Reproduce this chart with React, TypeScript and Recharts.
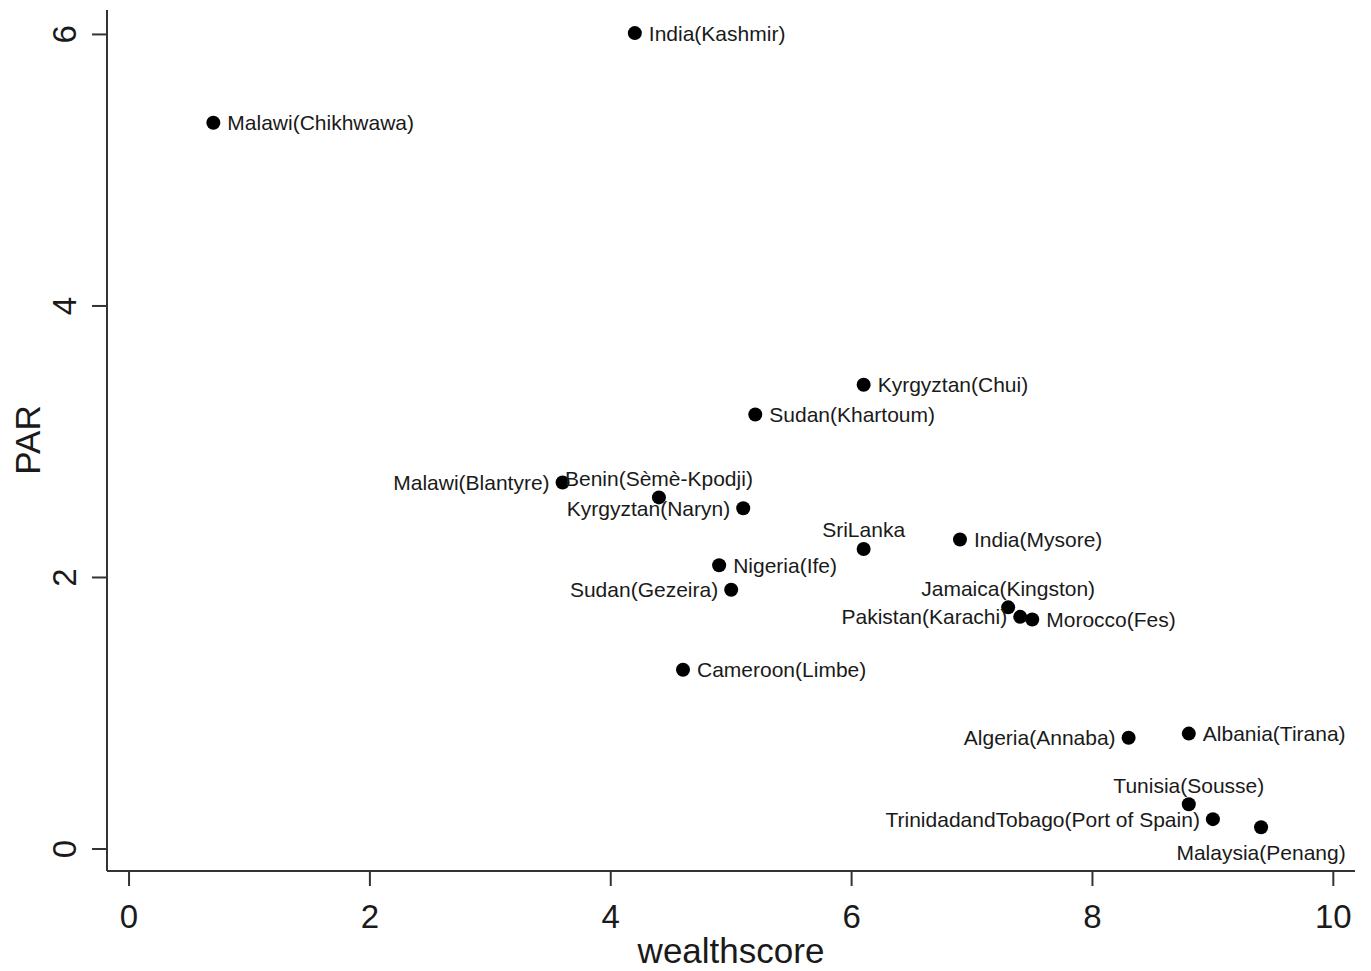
import { ScatterChart, Scatter, XAxis, YAxis, Label } from "recharts";

// study sites
const sites = [
  "India(Kashmir)",
  "Malawi(Chikhwawa)",
  "Kyrgyztan(Chui)",
  "Sudan(Khartoum)",
  "Malawi(Blantyre)",
  "Benin(Sèmè-Kpodji)",
  "Kyrgyztan(Naryn)",
  "SriLanka",
  "India(Mysore)",
  "Nigeria(Ife)",
  "Sudan(Gezeira)",
  "Jamaica(Kingston)",
  "Pakistan(Karachi)",
  "Morocco(Fes)",
  "Cameroon(Limbe)",
  "Algeria(Annaba)",
  "Albania(Tirana)",
  "Tunisia(Sousse)",
  "TrinidadandTobago(Port of Spain)",
  "Malaysia(Penang)",
];

const wealthscore = [4.2, 0.7, 6.1, 5.2, 3.6, 4.4, 5.1, 6.1, 6.9, 4.9, 5.0, 7.3, 7.4, 7.5, 4.6, 8.3, 8.8, 8.8, 9.0, 9.4];
const par = [6.01, 5.35, 3.42, 3.2, 2.7, 2.59, 2.51, 2.21, 2.28, 2.09, 1.91, 1.78, 1.71, 1.69, 1.32, 0.82, 0.85, 0.33, 0.22, 0.16];
// marker label clock position (3 = right, 9 = left, 12 = above, 6 = below)
const labelClock = [3, 3, 3, 3, 9, 12, 9, 12, 3, 3, 9, 12, 9, 3, 3, 9, 3, 12, 9, 6];

const xTicks = [0, 2, 4, 6, 8, 10];
const yTicks = [0, 2, 4, 6];

const data = sites.map((name, i) => ({
  name,
  x: wealthscore[i],
  y: par[i],
  clock: labelClock[i],
}));

const FONT = '"Liberation Sans", Arial, sans-serif';
const INK = "#1a1a1a";
const AXIS = "#333333";

function Marker(props: any) {
  const { cx, cy, payload } = props;
  const c = payload.clock;
  let tx = cx;
  let ty = cy;
  let anchor: "start" | "end" | "middle" = "middle";
  if (c === 3) {
    tx = cx + 14;
    anchor = "start";
  } else if (c === 9) {
    tx = cx - 13;
    anchor = "end";
  } else if (c === 12) {
    ty = cy - 19;
  } else if (c === 6) {
    ty = cy + 25;
  }
  return (
    <g>
      <circle cx={cx} cy={cy} r={7} fill="#000" />
      <text
        x={tx}
        y={ty}
        textAnchor={anchor}
        dominantBaseline="central"
        fontSize={21}
        fontFamily={FONT}
        fill={INK}
      >
        {payload.name}
      </text>
    </g>
  );
}

function XTick(props: any) {
  const { x, payload } = props;
  return (
    <text x={x} y={916} textAnchor="middle" dominantBaseline="central" fontSize={33} fontFamily={FONT} fill={INK}>
      {payload.value}
    </text>
  );
}

function YTick(props: any) {
  const { y, payload } = props;
  return (
    <text
      x={65}
      y={y}
      transform={`rotate(-90, 65, ${y})`}
      textAnchor="middle"
      dominantBaseline="central"
      fontSize={33}
      fontFamily={FONT}
      fill={INK}
    >
      {payload.value}
    </text>
  );
}

function YTitle() {
  return (
    <text
      x={27}
      y={440}
      transform="rotate(-90, 27, 440)"
      textAnchor="middle"
      dominantBaseline="central"
      fontSize={35}
      fontFamily={FONT}
      fill={INK}
    >
      PAR
    </text>
  );
}

export default function App() {
  return (
    <div style={{ position: "absolute", left: 0, top: 0, width: 1371, height: 971, background: "#fff" }}>
      <ScatterChart width={1371} height={971} margin={{ top: 10, right: 16, left: 0, bottom: 0 }}>
        <XAxis
          type="number"
          dataKey="x"
          domain={[-0.183, 10.18]}
          ticks={xTicks}
          height={100}
          stroke={AXIS}
          strokeWidth={2}
          tickSize={15}
          tick={<XTick />}
          allowDataOverflow
        >
          <Label
            value="wealthscore"
            position="insideBottom"
            offset={8}
            style={{ fontSize: 35, fontFamily: FONT, fill: INK }}
          />
        </XAxis>
        <YAxis
          type="number"
          dataKey="y"
          domain={[-0.162, 6.18]}
          ticks={yTicks}
          width={107}
          stroke={AXIS}
          strokeWidth={2}
          tickSize={15}
          tick={<YTick />}
          allowDataOverflow
        >
          <Label content={<YTitle />} />
        </YAxis>
        <Scatter data={data} shape={<Marker />} isAnimationActive={false} />
      </ScatterChart>
    </div>
  );
}
